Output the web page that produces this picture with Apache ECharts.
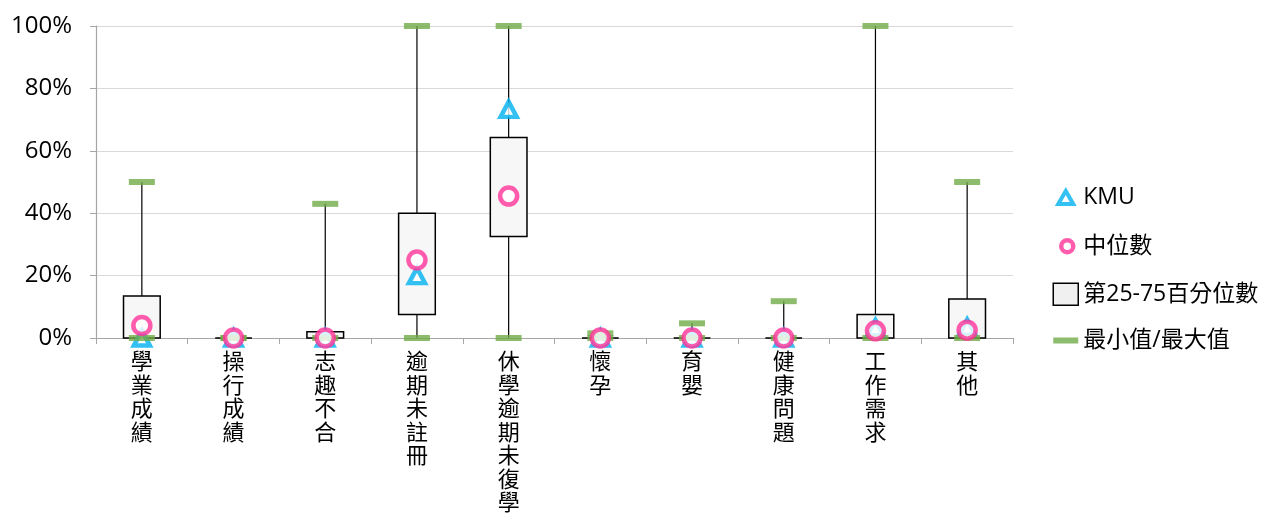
<!DOCTYPE html>
<html lang="zh-Hant">
<head>
    <meta charset="UTF-8">
    <title>退學原因分布</title>
    <script src="https://cdn.jsdelivr.net/npm/echarts@6/dist/echarts.min.js"></script>
    <style>
        body { margin: 0; background: #fff; }
        #chart { width: 1272px; height: 518px; }
    </style>
</head>
<body>
<div id="chart"></div>
<script>
// data (percent)
const categories = ['學業成績', '操行成績', '志趣不合', '逾期未註冊', '休學逾期未復學', '懷孕', '育嬰', '健康問題', '工作需求', '其他'];
const minVals    = [0, 0, 0, 0, 0, 0, 0, 0, 0, 0];
const q1Vals     = [0, 0, 0, 7.5, 32.5, 0, 0, 0, 0, 0];
const medianVals = [4, 0, 0, 25, 45.5, 0, 0, 0, 2.3, 2.5];
const q3Vals     = [13.5, 0, 2, 40, 64.3, 0, 0, 0, 7.5, 12.5];
const maxVals    = [50, 0, 43, 100, 100, 1.5, 4.7, 11.8, 100, 50];
const kmuVals    = [0, 0, 0, 20, 73.3, 0, 0, 0, 3.3, 3.5];
const yTicks     = [0, 20, 40, 60, 80, 100];

const font = '"Open Sans", "Noto Sans CJK TC", sans-serif';
const boxData = categories.map((c, i) => [i, minVals[i], q1Vals[i], q3Vals[i], maxVals[i]]);
const extremes = [];
categories.forEach((c, i) => {
    extremes.push([i, minVals[i]]);
    extremes.push([i, maxVals[i]]);
});

function renderBox(params, api) {
    const x = api.value(0);
    const pMin = api.coord([x, api.value(1)]);
    const pQ1 = api.coord([x, api.value(2)]);
    const pQ3 = api.coord([x, api.value(3)]);
    const pMax = api.coord([x, api.value(4)]);
    const w = api.size([1, 0])[0] * 0.4;
    return {
        type: 'group',
        children: [
            {
                type: 'line',
                shape: { x1: pMin[0], y1: pMin[1], x2: pMax[0], y2: pMax[1] },
                style: { stroke: '#000', lineWidth: 1.2 }
            },
            {
                type: 'rect',
                shape: { x: pQ3[0] - w / 2, y: pQ3[1], width: w, height: Math.max(pQ1[1] - pQ3[1], 0) },
                style: { fill: '#f7f7f7', stroke: '#000', lineWidth: 1.5 }
            }
        ]
    };
}

// legend icons drawn inside a 25x22 frame so they keep their own size
const frame = 'M0,0M25,22';
const triIcon = 'path://' + frame + 'M5,18L20,18L12.5,5Z';
const circIcon = 'path://' + frame + 'M8,11a6,6 0 1,0 12,0a6,6 0 1,0 -12,0Z';
const barIcon = 'path://' + frame + 'M0,8L25,8L25,14L0,14Z';

const chart = echarts.init(document.getElementById('chart'));
chart.setOption({
    animation: false,
    textStyle: { fontFamily: font },
    grid: { left: 96, right: 259, top: 26, bottom: 180 },
    legend: {
        orient: 'vertical',
        left: 1046,
        top: 179,
        itemWidth: 25,
        itemHeight: 22,
        itemGap: 23,
        textStyle: { fontSize: 23, lineHeight: 22, color: '#000', fontFamily: font },
        data: [
            { name: 'KMU', icon: triIcon, itemStyle: { borderWidth: 4 } },
            { name: '中位數', icon: circIcon, itemStyle: { borderWidth: 4.5 } },
            { name: '第25-75百分位數', icon: 'rect', itemStyle: { borderWidth: 1.5 } },
            { name: '最小值/最大值', icon: barIcon }
        ]
    },
    xAxis: {
        type: 'category',
        data: categories,
        boundaryGap: true,
        axisLine: { lineStyle: { color: '#a6a6a6', width: 1.2 } },
        axisTick: { show: true, length: 6, interval: 0, lineStyle: { color: '#a6a6a6' } },
        axisLabel: {
            interval: 0,
            margin: 13,
            fontSize: 22,
            lineHeight: 23.5,
            color: '#000',
            fontFamily: font,
            verticalAlign: 'top',
            formatter: v => v.split('').join('\n')
        }
    },
    yAxis: {
        type: 'value',
        min: 0,
        max: 100,
        interval: 20,
        axisLine: { show: true, lineStyle: { color: '#a6a6a6', width: 1.2 } },
        axisTick: { show: true, length: 6, inside: false, lineStyle: { color: '#a6a6a6' } },
        splitLine: { lineStyle: { color: '#d9d9d9', width: 1.2 } },
        axisLabel: {
            margin: 24,
            fontSize: 24,
            color: '#000',
            fontFamily: font,
            formatter: v => yTicks.includes(v) ? v + '%' : ''
        }
    },
    series: [
        {
            name: '第25-75百分位數',
            type: 'custom',
            renderItem: renderBox,
            itemStyle: { color: '#f0f0f0', borderColor: '#000', borderWidth: 1.5 },
            encode: { x: 0, y: [1, 2, 3, 4] },
            data: boxData,
            z: 2
        },
        {
            name: 'KMU',
            type: 'scatter',
            symbol: 'triangle',
            symbolSize: [16, 15],
            itemStyle: { color: '#fff', borderColor: '#00b0f0', borderWidth: 4.5 },
            data: kmuVals.map((v, i) => [i, v]),
            z: 3
        },
        {
            name: '最小值/最大值',
            type: 'scatter',
            symbol: 'rect',
            symbolSize: [26, 6],
            itemStyle: { color: '#70ad47' },
            data: extremes,
            z: 4
        },
        {
            name: '中位數',
            type: 'scatter',
            symbol: 'circle',
            symbolSize: 17,
            itemStyle: { color: '#fff', borderColor: '#ff3399', borderWidth: 4.5 },
            data: medianVals.map((v, i) => [i, v]),
            z: 5
        }
    ]
});
</script>
</body>
</html>
